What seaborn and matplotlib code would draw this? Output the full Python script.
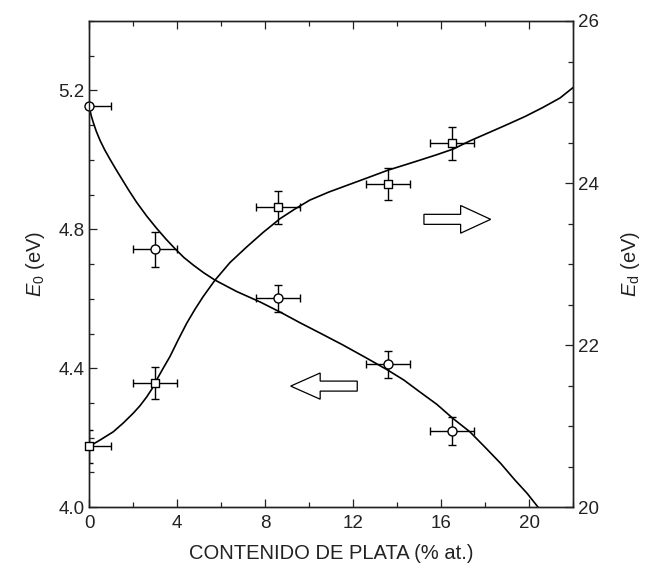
import numpy as np
import pandas as pd
import matplotlib.pyplot as plt
import matplotlib.patches as mpatches
from matplotlib.ticker import MultipleLocator
import seaborn as sns

# --- datos medidos ---
plata = [0.0, 3.0, 8.6, 13.6, 16.5]          # % at.
e0 = [5.155, 4.742, 4.601, 4.411, 4.219]     # eV (eje izquierdo)
e0_err = [0.0, 0.05, 0.04, 0.04, 0.04]
ed = [20.75, 21.53, 23.70, 23.99, 24.49]     # eV (eje derecho)
ed_err = [0.2, 0.2, 0.2, 0.2, 0.2]
x_err = [1.0, 1.0, 1.0, 1.0, 1.0]

# curvas de ajuste
fit_e0_x = [0.0, 0.08, 0.18, 0.32, 0.49, 0.7, 0.94, 1.2, 1.47, 1.8, 2.15, 2.6, 3.06,
            3.5, 3.9, 4.3, 4.73, 5.2, 5.71, 6.7, 7.76, 8.7, 9.58, 10.5, 11.5, 12.5,
            13.56, 14.3, 15.0, 15.8, 16.52, 17.3, 18.0, 18.7, 19.35, 19.9, 20.4]
fit_e0_y = [5.155, 5.129, 5.108, 5.082, 5.056, 5.029, 5.002, 4.974, 4.946, 4.912, 4.878,
            4.839, 4.803, 4.771, 4.744, 4.719, 4.697, 4.675, 4.654, 4.621, 4.591, 4.561,
            4.531, 4.501, 4.468, 4.433, 4.395, 4.366, 4.333, 4.296, 4.256, 4.217, 4.172,
            4.126, 4.078, 4.04, 4.0]
fit_ed_x = [0.0, 0.5, 1.09, 1.55, 2.0, 2.3, 2.61, 2.85, 3.06, 3.35, 3.67, 4.05, 4.43,
            4.8, 5.18, 5.71, 6.4, 7.15, 7.9, 8.67, 9.35, 10.03, 10.9, 11.8, 12.7,
            13.59, 14.3, 15.0, 15.8, 16.55, 17.3, 18.06, 18.9, 19.8, 20.6, 21.4, 22.0]
fit_ed_y = [20.75, 20.83, 20.93, 21.04, 21.16, 21.25, 21.36, 21.46, 21.57, 21.71, 21.86,
            22.07, 22.27, 22.44, 22.60, 22.80, 23.02, 23.21, 23.39, 23.56, 23.68, 23.79,
            23.89, 23.98, 24.07, 24.16, 24.22, 24.28, 24.35, 24.42, 24.52, 24.61, 24.71,
            24.82, 24.93, 25.05, 25.18]

sns.set_theme(style='ticks')
plt.rcParams['font.family'] = ['Liberation Sans', 'DejaVu Sans']
plt.rcParams['mathtext.fontset'] = 'custom'
plt.rcParams['mathtext.rm'] = 'Liberation Sans'
plt.rcParams['mathtext.it'] = 'Liberation Sans:italic'
plt.rcParams['text.color'] = '#222222'
plt.rcParams['axes.labelcolor'] = '#222222'
plt.rcParams['xtick.color'] = '#222222'
plt.rcParams['ytick.color'] = '#222222'

fig = plt.figure(figsize=(6.47, 5.75), dpi=100)
ax = fig.add_axes([0.138, 0.118, 0.748, 0.8455])
ax2 = ax.twinx()

pts = pd.DataFrame({'x': plata, 'e0': e0, 'ed': ed})

# curvas
sns.lineplot(x=fit_e0_x, y=fit_e0_y, ax=ax, color='black', lw=1.2, sort=False)
sns.lineplot(x=fit_ed_x, y=fit_ed_y, ax=ax2, color='black', lw=1.2, sort=False)

# barras de error
ax.errorbar(plata, e0, xerr=x_err, yerr=e0_err, fmt='none', ecolor='black',
            elinewidth=1.0, capsize=3, capthick=1.0)
ax2.errorbar(plata, ed, xerr=x_err, yerr=ed_err, fmt='none', ecolor='black',
             elinewidth=1.0, capsize=3, capthick=1.0)

# marcadores
sns.scatterplot(data=pts, x='x', y='e0', ax=ax, marker='o', s=42, facecolor='white',
                edgecolor='black', linewidth=1.0, zorder=5, clip_on=False)
sns.scatterplot(data=pts, x='x', y='ed', ax=ax2, marker='s', s=38, facecolor='white',
                edgecolor='black', linewidth=1.0, zorder=5, clip_on=False)

# flechas
flecha_izq = mpatches.FancyArrow(0.5537, 0.249, -0.1376, 0.0, width=0.0206,
                                 head_width=0.054, head_length=0.061,
                                 length_includes_head=True, transform=ax.transAxes,
                                 fill=False, edgecolor='black', lw=0.9)
flecha_der = mpatches.FancyArrow(0.6915, 0.592, 0.1378, 0.0, width=0.0206,
                                 head_width=0.057, head_length=0.062,
                                 length_includes_head=True, transform=ax.transAxes,
                                 fill=False, edgecolor='black', lw=0.9)
ax.add_patch(flecha_izq)
ax.add_patch(flecha_der)

# ejes
ax.set_xlim(0, 22)
ax.set_ylim(4.0, 5.4)
ax2.set_ylim(20, 26)
ax.set_xticks([0, 4, 8, 12, 16, 20])
ax.xaxis.set_minor_locator(MultipleLocator(2))
ax.set_yticks([4.0, 4.4, 4.8, 5.2])
ax.yaxis.set_minor_locator(MultipleLocator(0.1))
ax2.set_yticks([20, 22, 24, 26])
ax2.yaxis.set_minor_locator(MultipleLocator(0.5))

ax.tick_params(which='both', direction='in', top=True, labelsize=13.5, width=0.9)
ax.tick_params(which='major', length=6)
ax.tick_params(which='minor', length=3.5)
ax.tick_params(axis='x', which='major', pad=6)
ax2.tick_params(which='both', direction='in', labelsize=13.5, width=0.9)
ax2.tick_params(which='major', length=6)
ax2.tick_params(which='minor', length=3.5)

ax.set_xlabel('CONTENIDO DE PLATA (% at.)', fontsize=14.5, labelpad=8)
ax.set_ylabel(r'$E_0$ (eV)', fontsize=14.5, labelpad=8)
ax2.set_ylabel(r'$E_\mathrm{d}$ (eV)', fontsize=14.5, labelpad=14)

for a in (ax, ax2):
    for s in a.spines.values():
        s.set_visible(True)
        s.set_linewidth(1.0)
        s.set_color('#222222')

ax.yaxis.set_major_formatter(plt.FormatStrFormatter('%.1f'))

fig.savefig('out.png', dpi=100)
